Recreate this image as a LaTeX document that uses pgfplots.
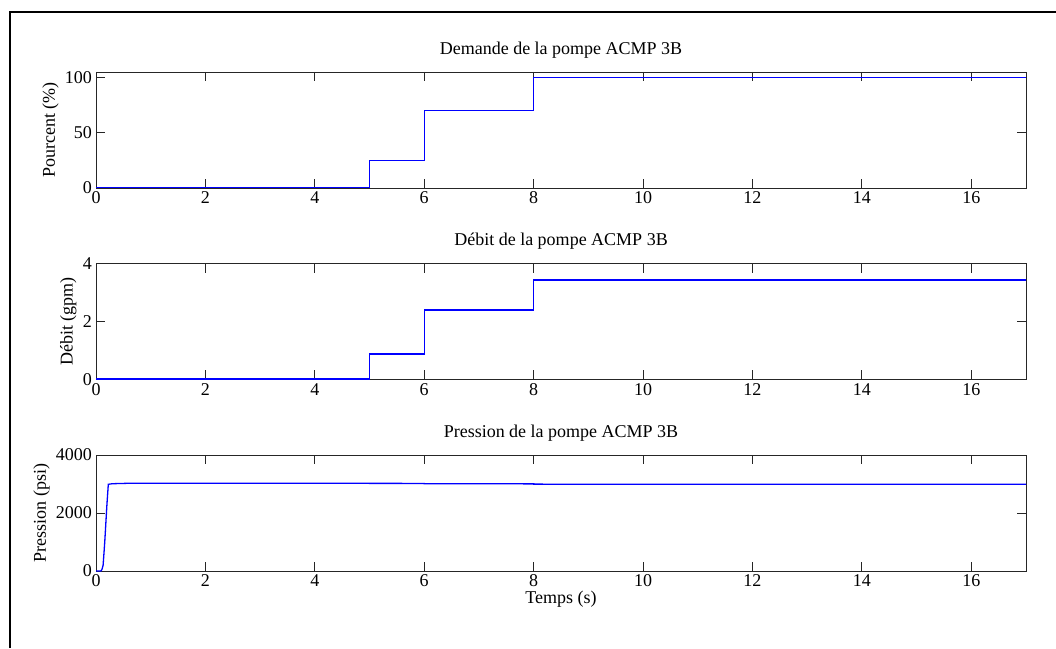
\documentclass[border=0pt]{standalone}
\usepackage{fontspec}
\setmainfont{Liberation Serif}
\usepackage{pgfplots}
\pgfplotsset{compat=1.18}
\begin{document}
\begin{tikzpicture}
\useasboundingbox (0pt,0pt) rectangle (1056pt,648pt);
\draw[line width=2pt] (9.5pt,0pt) -- (9.5pt,636pt) -- (1056pt,636pt);
\pgfplotsset{
  myax/.style={
    scale only axis, width=930pt, height=116pt,
    anchor=south west,
    xmin=0, xmax=17, xtick={0,2,...,16},
    tick align=inside, major tick length=9pt,
    axis line style={line width=0.8pt, black!85},
    tick style={line width=0.8pt, black!85},
    font=\fontsize{18}{21}\selectfont,
    /pgf/number format/assume math mode=true,
    tick label style={font=\fontsize{18}{21}\selectfont},
    xticklabel style={inner sep=0pt, yshift=-3.5pt},
    yticklabel style={inner sep=0pt, xshift=-4pt},
    title style={at={(0.5,1)}, anchor=base, yshift=11.6pt, inner sep=0pt},
    ylabel style={inner sep=6pt},
    scaled y ticks=false,
    yticklabel style={/pgf/number format/fixed, /pgf/number format/1000 sep={}},
  },
  myline/.style={blue, line width=1.3pt, no markers},
}
\begin{axis}[myax, at={(96pt,460pt)}, ymin=0, ymax=105, ytick={0,50,100},
  title={Demande de la pompe ACMP 3B}, ylabel={Pourcent (\%)}]
\addplot[myline] coordinates {(0,0) (5,0) (5,25) (6,25) (6,70) (8,70) (8,100) (17,100)};
\end{axis}
\begin{axis}[myax, at={(96pt,268.5pt)}, ymin=0, ymax=4, ytick={0,2,4},
  title={Débit de la pompe ACMP 3B}, ylabel={Débit (gpm)}]
\addplot[myline] coordinates {(0,0.02) (5,0.02) (5,0.88) (6,0.88) (6,2.40) (8,2.40) (8,3.43) (17,3.43)};
\end{axis}
\begin{axis}[myax, at={(96pt,77pt)}, ymin=0, ymax=4000, ytick={0,2000,4000},
  title={Pression de la pompe ACMP 3B}, ylabel={Pression (psi)},
  xlabel={Temps (s)}, xlabel style={inner sep=0pt, yshift=-4pt}]
\addplot[myline] coordinates {(0,0) (0.09,0) (0.11,60) (0.13,200) (0.16,1000) (0.2,2300) (0.225,2990) (0.3,3010) (0.6,3025) (5,3025) (5,3022) (6,3020) (6,3008) (8,3005) (8,2995) (17,2992)};
\end{axis}
\end{tikzpicture}
\end{document}
